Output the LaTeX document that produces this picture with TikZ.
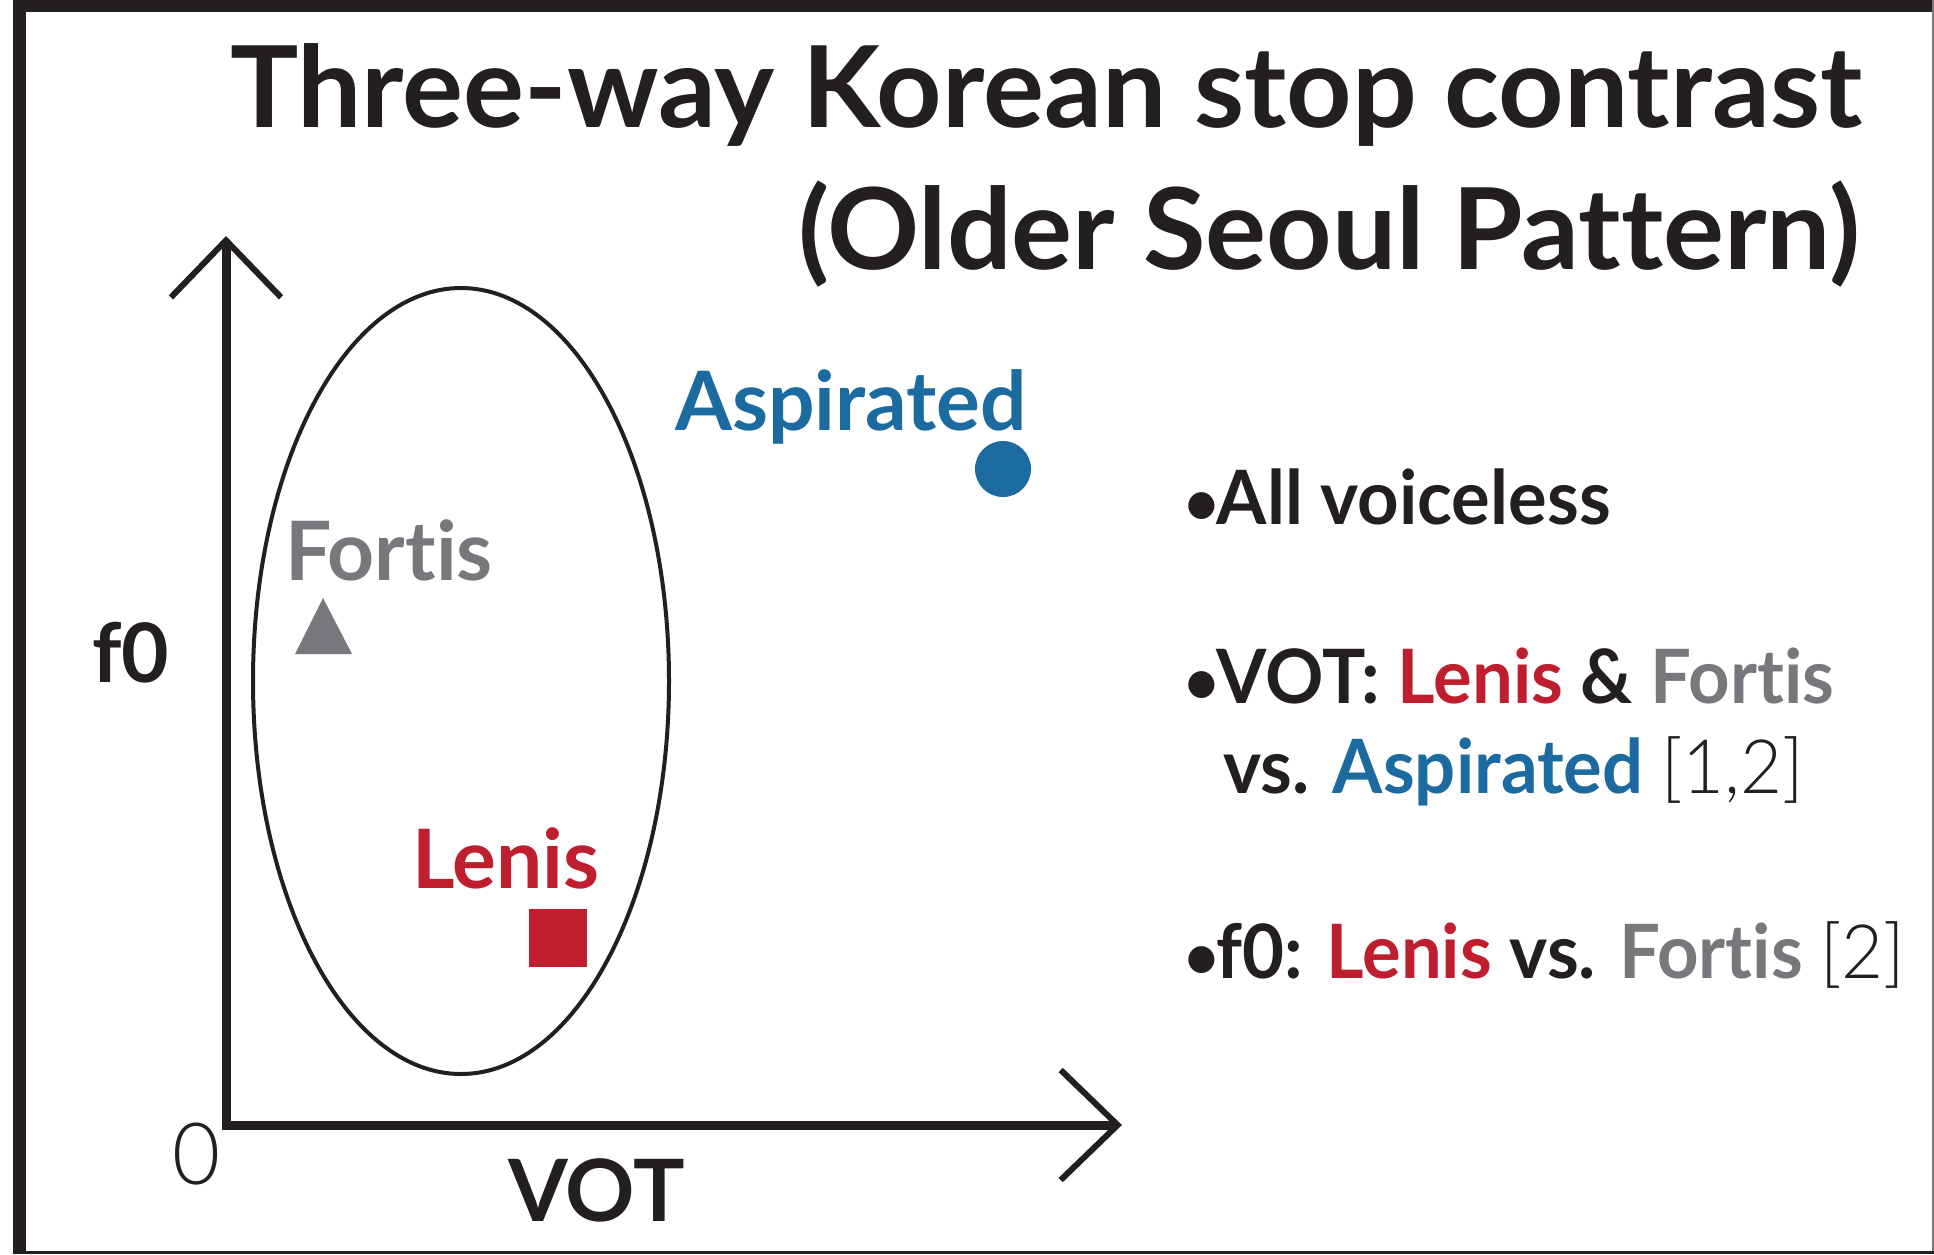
\documentclass[tikz,border=0pt]{standalone}
\usepackage{fontspec}
\setmainfont[Ligatures=NoCommon]{Lato}
\newfontfamily\lightfont[Ligatures=NoCommon, FakeStretch=0.965]{Lato Light}
\newfontfamily\titlefont[Ligatures=NoCommon, FakeStretch=1.01]{Lato}
\newfontfamily\bulletfont[Ligatures=NoCommon, FakeStretch=0.965]{Lato}
\usetikzlibrary{arrows.meta}

\definecolor{ink}{HTML}{231F20}
\definecolor{lenisred}{HTML}{BE1E2D}
\definecolor{aspblue}{HTML}{1C6BA0}
\definecolor{fortgray}{HTML}{77787B}

\tikzset{
  lbl/.style={inner sep=0pt, outer sep=0pt, anchor=base west, text=ink},
  axis/.style={line width=9pt, ink, -{Straight Barb[length=57pt,width=110pt,line width=6pt]}},
  bigtitle/.style={lbl, anchor=base east, font=\fontsize{113}{130}\selectfont\titlefont\bfseries},
  ptlabel/.style={lbl, font=\fontsize{82}{96}\selectfont\bfseries},
  bullet/.style={lbl, font=\fontsize{75}{90}\selectfont\bulletfont\bfseries}
}

\newcommand{\citeref}[1]{{\lightfont\mdseries #1}}
\newcommand{\dotmark}{{\fontsize{62}{70}\selectfont •}\kern-2pt}

\begin{document}
\begin{tikzpicture}[x=1pt,y=-1pt]
        \useasboundingbox (0,0) rectangle (1934,1254);
        \fill[white] (0,0) rectangle (1934,1254);

        % frame
        \fill[ink] (13,0) rectangle (26,1254);
        \fill[ink] (13,0) rectangle (1934,12);
        \draw[line width=1.5pt, fortgray] (1933,0) -- (1933,1254);
        \draw[line width=2.5pt, ink] (13,1252.5) -- (1934,1252.5);

        % title
        \node[bigtitle] (title1) at (1862,127) {Three-way Korean stop contrast};
        \node[bigtitle] (title2) at (1860,269) {(Older Seoul Pattern)};

        % axes
        \coordinate (origin) at (226,1125);
        \coordinate (ytop) at (226,236);
        \coordinate (xend) at (1122,1125);
        \draw[axis] (226,1129.5) -- (ytop);
        \draw[axis] (221.5,1125) -- (xend);
        \node[lbl, font=\fontsize{86}{100}\selectfont\lightfont] (zero) at (172,1184) {0};
        \node[ptlabel, font=\fontsize{86}{100}\selectfont\bfseries] (vot) at (508,1221) {VOT};
        \node[ptlabel] (f0) at (92,682) {f0};

        % ellipse round lenis and fortis
        \draw[line width=4pt, ink] (461,681) ellipse [x radius=208pt, y radius=393pt];

        % points
        \node[ptlabel, text=aspblue] (asp) at (675,430) {Aspirated};
        \fill[aspblue] (1003,469) circle (28pt);
        \node[ptlabel, text=fortgray] (fort) at (285,580) {Fortis};
        \fill[fortgray] (323,598) -- (352,654) -- (295,654) -- cycle;
        \node[ptlabel, text=lenisred] (len) at (412,888) {Lenis};
        \fill[lenisred] (529,909) rectangle (587,967);

        % bullet points
        \node[bullet] (b1) at (1184,524) {\dotmark All voiceless};
        \node[bullet] (b2) at (1184,703) {\dotmark VOT: \textcolor{lenisred}{Lenis} \& \textcolor{fortgray}{Fortis}};
        \node[bullet] (b2b) at (1223,793) {vs. \textcolor{aspblue}{Aspirated} \citeref{[1,2]}};
        \node[bullet] (b3) at (1184,978) {\dotmark f0: \textcolor{lenisred}{Lenis} vs. \textcolor{fortgray}{Fortis} \citeref{[2]}};
      \end{tikzpicture}
\end{document}
